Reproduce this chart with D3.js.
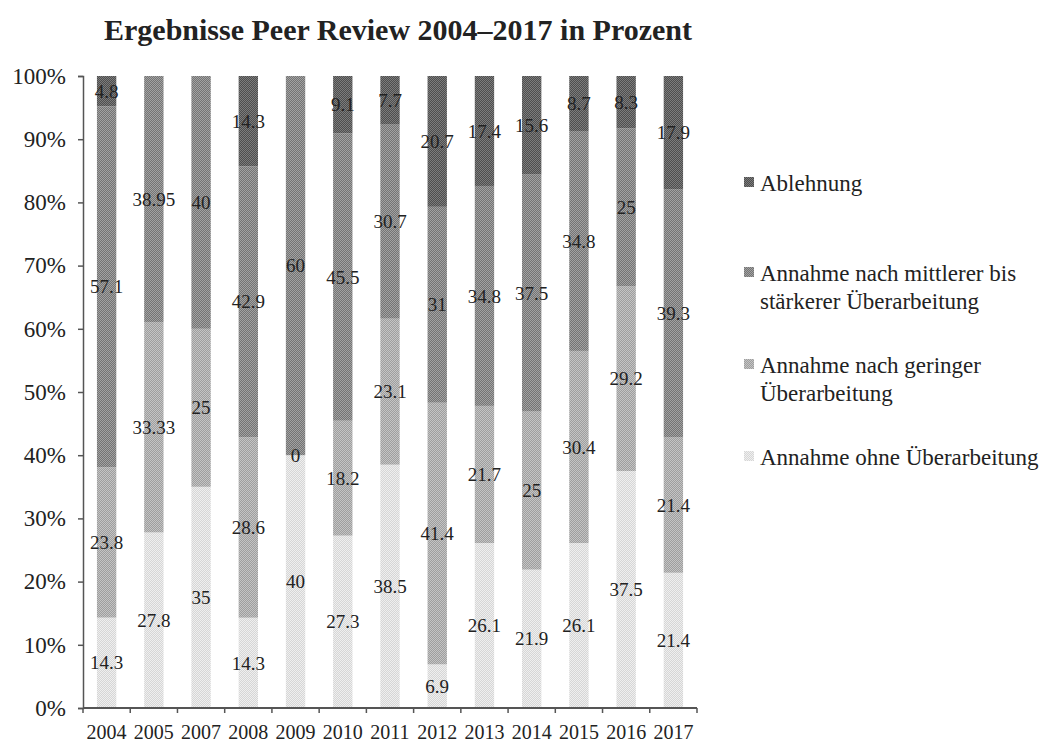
<!DOCTYPE html>
<html>
<head>
<meta charset="utf-8">
<script src="https://cdn.jsdelivr.net/npm/d3@7"></script>
<style>
  body { margin: 0; background: #fff; }
  text { font-family: "Liberation Serif", "DejaVu Serif", serif; fill: #222; }
</style>
</head>
<body>
<svg id="chart" width="1051" height="747"></svg>
<script>
// categories and series (values in percent, null = no entry)
const years = ['2004', '2005', '2007', '2008', '2009', '2010', '2011', '2012', '2013', '2014', '2015', '2016', '2017'];
const ohne = [14.3, 27.8, 35, 14.3, 40, 27.3, 38.5, 6.9, 26.1, 21.9, 26.1, 37.5, 21.4];
const gering = [23.8, 33.33, 25, 28.6, 0, 18.2, 23.1, 41.4, 21.7, 25, 30.4, 29.2, 21.4];
const mittel = [57.1, 38.95, 40, 42.9, 60, 45.5, 30.7, 31, 34.8, 37.5, 34.8, 25, 39.3];
const ablehnung = [4.8, null, null, 14.3, null, 9.1, 7.7, 20.7, 17.4, 15.6, 8.7, 8.3, 17.9];
const yTicks = [0, 0.1, 0.2, 0.3, 0.4, 0.5, 0.6, 0.7, 0.8, 0.9, 1];

const series = [
    { key: 'ohne', label: ['Annahme ohne Überarbeitung'], values: ohne, c1: '#d6d6d6', c2: '#efefef' },
    { key: 'gering', label: ['Annahme nach geringer', 'Überarbeitung'], values: gering, c1: '#9e9e9e', c2: '#c4c4c4' },
    { key: 'mittel', label: ['Annahme nach mittlerer bis', 'stärkerer Überarbeitung'], values: mittel, c1: '#747474', c2: '#a2a2a2' },
    { key: 'ablehnung', label: ['Ablehnung'], values: ablehnung, c1: '#4e4e4e', c2: '#7c7c7c' }
];

const rows = years.map((y, i) => {
    const r = { year: y };
    series.forEach(s => { r[s.key] = s.values[i] || 0; });
    return r;
});

const svg = d3.select('#chart');
const margin = { left: 83, right: 354, top: 76, bottom: 39 };
const width = 1051 - margin.left - margin.right;
const height = 747 - margin.top - margin.bottom;

// stipple patterns
const defs = svg.append('defs');
series.forEach(s => {
    const p = defs.append('pattern')
        .attr('id', 'pat-' + s.key)
        .attr('width', 2).attr('height', 2)
        .attr('patternUnits', 'userSpaceOnUse');
    p.append('rect').attr('width', 2).attr('height', 2).attr('fill', s.c2);
    p.append('rect').attr('width', 1).attr('height', 1).attr('fill', s.c1);
    p.append('rect').attr('x', 1).attr('y', 1).attr('width', 1).attr('height', 1).attr('fill', s.c1);
});

const x = d3.scaleBand().domain(years).range([0, width]).paddingInner(0.59).paddingOuter(0.295);
const y = d3.scaleLinear().domain([0, 1]).range([height, 0]);

const stacked = d3.stack()
    .keys(series.map(s => s.key))
    .offset(d3.stackOffsetExpand)(rows);

const g = svg.append('g').attr('transform', `translate(${margin.left},${margin.top})`);

// title
svg.append('text')
    .attr('x', 398).attr('y', 40)
    .attr('text-anchor', 'middle')
    .attr('font-size', 30).attr('font-weight', 'bold')
    .text('Ergebnisse Peer Review 2004–2017 in Prozent');

// bars
stacked.forEach((layer, si) => {
    g.append('g')
        .selectAll('rect')
        .data(layer)
        .enter()
        .append('rect')
        .attr('x', d => x(d.data.year))
        .attr('width', x.bandwidth())
        .attr('y', d => y(d[1]))
        .attr('height', d => y(d[0]) - y(d[1]))
        .attr('fill', `url(#pat-${series[si].key})`);
});

// value labels
stacked.forEach((layer, si) => {
    const s = series[si];
    g.append('g')
        .selectAll('text')
        .data(layer.filter((d, i) => s.values[i] !== null))
        .enter()
        .append('text')
        .attr('x', d => x(d.data.year) + x.bandwidth() / 2)
        .attr('y', d => y((d[0] + d[1]) / 2))
        .attr('dy', '0.35em')
        .attr('text-anchor', 'middle')
        .attr('font-size', 19)
        .text(d => String(d.data[s.key]));
});

// y axis
const yAxis = g.append('g')
    .call(d3.axisLeft(y).tickValues(yTicks).tickFormat(d3.format('.0%')).tickSize(5).tickPadding(12));
yAxis.selectAll('text').attr('font-size', 23).style('fill', '#222');
yAxis.selectAll('line, path').attr('stroke', '#555').attr('stroke-width', 1.5);

// x axis: ticks between categories
const step = x.step();
const xAxis = g.append('g').attr('transform', `translate(0,${height})`);
xAxis.append('line')
    .attr('x1', 0).attr('x2', width)
    .attr('stroke', '#555').attr('stroke-width', 2);
xAxis.selectAll('line.tick')
    .data(d3.range(years.length + 1))
    .enter()
    .append('line')
    .attr('class', 'tick')
    .attr('x1', i => i * step).attr('x2', i => i * step)
    .attr('y1', 0).attr('y2', 5)
    .attr('stroke', '#555').attr('stroke-width', 1.5);
xAxis.selectAll('text')
    .data(years)
    .enter()
    .append('text')
    .attr('x', d => x(d) + x.bandwidth() / 2)
    .attr('y', 31)
    .attr('text-anchor', 'middle')
    .attr('font-size', 20)
    .text(d => d);

// legend
const legendY = [183, 273, 365, 457];
const legend = svg.append('g').attr('transform', 'translate(744,0)');
series.slice().reverse().forEach((s, i) => {
    const item = legend.append('g').attr('transform', `translate(0,${legendY[i]})`);
    item.append('rect')
        .attr('x', 0).attr('y', -6)
        .attr('width', 10).attr('height', 10)
        .attr('fill', `url(#pat-${s.key})`);
    s.label.forEach((line, li) => {
        item.append('text')
            .attr('x', 16).attr('y', li * 28)
            .attr('dy', '0.35em')
            .attr('font-size', 23)
            .text(line);
    });
});
</script>
</body>
</html>
